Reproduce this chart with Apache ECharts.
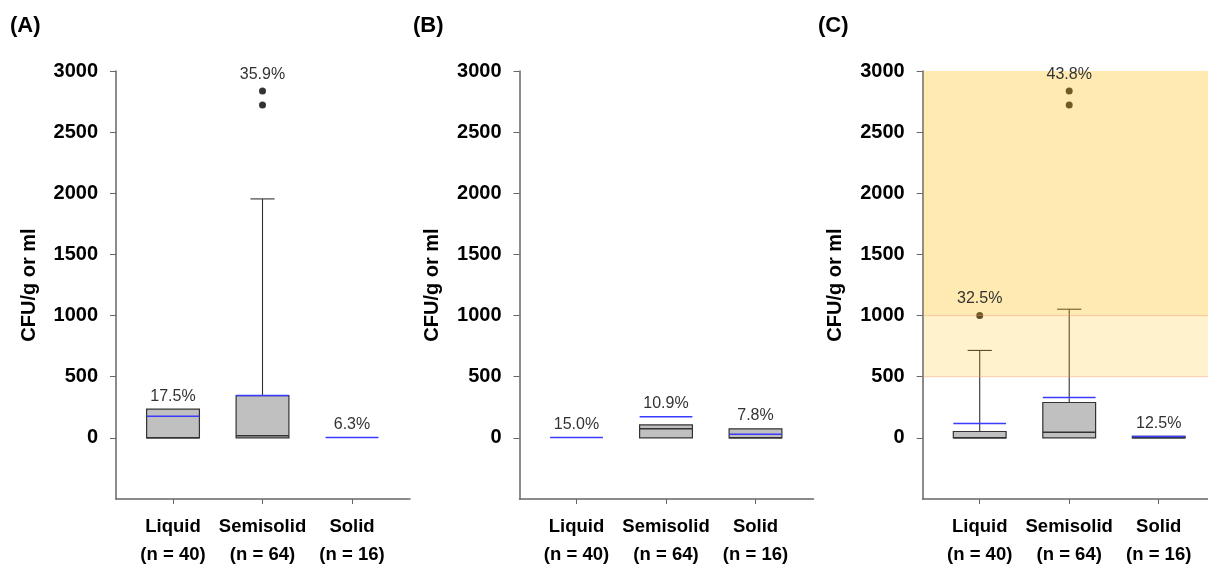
<!DOCTYPE html>
<html>
<head>
<meta charset="utf-8">
<script src="https://cdn.jsdelivr.net/npm/echarts@6/dist/echarts.min.js"></script>
<style>
  html, body { margin: 0; padding: 0; background: #fff; }
  #chart { width: 1208px; height: 564px; }
</style>
</head>
<body>
<div id="chart"></div>
<script>
// Sample categories and counts
const categories = ['Liquid', 'Semisolid', 'Solid'];
const sampleCounts = [40, 64, 16];
const yTicks = [0, 500, 1000, 1500, 2000, 2500, 3000];
const panelTitles = ['(A)', '(B)', '(C)'];

// Box statistics per category: [q1, median, q3, upper whisker]
const statsA = [[0, 0, 235, 235], [0, 17, 346, 1954], [0, 0, 0, 0]];
const meansA = [177, 346, 3];
const outliersA = [[], [2722, 2837], []];
const positiveA = ['17.5%', '35.9%', '6.3%'];

const statsB = [[0, 0, 0, 0], [0, 74, 106, 106], [0, 0, 74, 74]];
const meansB = [2, 172, 30];
const outliersB = [[], [], []];
const positiveB = ['15.0%', '10.9%', '7.8%'];

const statsC = [[0, 0, 52, 715], [0, 45, 289, 1052], [0, 0, 12, 12]];
const meansC = [117, 330, 12];
const outliersC = [[1000], [2722, 2837], []];
const positiveC = ['32.5%', '43.8%', '12.5%'];

// Limit bands shown in panel C: [lower, upper]
const limitBandsC = [[500, 1000], [1000, 3000]];

const FONT = "'Liberation Sans', Arial, sans-serif";
const AXIS_COLOR = '#666';
const BOX_WIDTH = 0.59;   // in x-axis units (category spacing = 1)
const CAP_WIDTH = 0.27;
const DOT_SIZE = 7;

const gridLefts = [116, 519.5, 922.7];
const GRID_TOP = 71, GRID_W = 294, GRID_H = 428;

const panels = [
  { stats: statsA, means: meansA, outliers: outliersA, positive: positiveA, bands: [] },
  { stats: statsB, means: meansB, outliers: outliersB, positive: positiveB, bands: [] },
  { stats: statsC, means: meansC, outliers: outliersC, positive: positiveC, bands: limitBandsC }
];

const grids = [], xAxes = [], yAxes = [], series = [], titles = [];

panels.forEach((p, k) => {
  grids.push({ left: gridLefts[k], top: GRID_TOP, width: GRID_W, height: GRID_H, outerBoundsMode: 'none', containLabel: false });
  titles.push({
    text: panelTitles[k], left: [10, 413, 818][k], top: 15, padding: 0,
    textStyle: { fontFamily: FONT, fontSize: 22, fontWeight: 'bold', color: '#000' }
  });
  xAxes.push({
    type: 'value', gridIndex: k, min: 0.363, max: 3.648,
    axisLine: { show: true, onZero: false, lineStyle: { color: AXIS_COLOR, width: 1.5 } },
    axisTick: { show: true, length: 5, customValues: [1, 2, 3], lineStyle: { color: AXIS_COLOR, width: 1 } },
    axisLabel: {
      customValues: [1, 2, 3], margin: 14,
      formatter: v => { const i = Math.round(v) - 1; return categories[i] + '\n(n = ' + sampleCounts[i] + ')'; },
      fontFamily: FONT, fontSize: 18.5, fontWeight: 'bold', color: '#000', lineHeight: 28
    },
    splitLine: { show: false }
  });
  yAxes.push({
    type: 'value', gridIndex: k, min: -500, max: 3000, interval: 500,
    name: 'CFU/g or ml', nameLocation: 'middle', nameGap: 77, nameRotate: 90,
    nameTextStyle: { fontFamily: FONT, fontSize: 20, fontWeight: 'bold', color: '#000' },
    axisLine: { show: true, onZero: false, lineStyle: { color: AXIS_COLOR, width: 1.5 } },
    axisTick: { show: true, length: 6, customValues: yTicks, lineStyle: { color: AXIS_COLOR, width: 1 } },
    axisLabel: {
      customValues: yTicks, margin: 18, formatter: v => String(v),
      fontFamily: FONT, fontSize: 20, fontWeight: 'bold', color: '#000'
    },
    splitLine: { show: false }
  });

  // Box, median, whisker and mean lines
  const boxData = p.stats.map((s, i) => [i + 1, s[0], s[1], s[2], s[3], p.means[i]]);
  series.push({
    type: 'custom', xAxisIndex: k, yAxisIndex: k, z: 2, clip: false,
    data: boxData,
    renderItem: (params, api) => {
      const x = api.value(0);
      const q1 = api.value(1), med = api.value(2), q3 = api.value(3), whi = api.value(4), mean = api.value(5);
      const cx = api.coord([x, 0])[0];
      const hw = api.size([BOX_WIDTH, 0])[0] / 2;
      const cw = api.size([CAP_WIDTH, 0])[0] / 2;
      const y = v => api.coord([x, v])[1];
      const children = [];
      if (whi > q3) {
        children.push({ type: 'line', shape: { x1: cx, y1: y(q3), x2: cx, y2: y(whi) }, style: { stroke: '#333', lineWidth: 1.1 } });
        children.push({ type: 'line', shape: { x1: cx - cw, y1: y(whi), x2: cx + cw, y2: y(whi) }, style: { stroke: '#333', lineWidth: 1.1 } });
      }
      if (q3 > q1) {
        children.push({ type: 'rect', shape: { x: cx - hw, y: y(q3), width: 2 * hw, height: y(q1) - y(q3) },
          style: { fill: '#c0c0c0', stroke: '#333', lineWidth: 1.2 } });
        children.push({ type: 'line', shape: { x1: cx - hw, y1: y(med), x2: cx + hw, y2: y(med) }, style: { stroke: '#333', lineWidth: 1.5 } });
      }
      children.push({ type: 'line', shape: { x1: cx - hw, y1: y(mean), x2: cx + hw, y2: y(mean) }, style: { stroke: '#3b3bff', lineWidth: 1.5 } });
      return { type: 'group', children };
    }
  });

  // Outlying samples
  const dots = [];
  p.outliers.forEach((list, i) => list.forEach(v => dots.push([i + 1, v])));
  series.push({
    type: 'scatter', xAxisIndex: k, yAxisIndex: k, z: 3, data: dots,
    symbol: 'circle', symbolSize: DOT_SIZE, itemStyle: { color: '#000' }, silent: true
  });

  // Translucent limit bands
  if (p.bands.length) {
    series.push({
      type: 'custom', xAxisIndex: k, yAxisIndex: k, z: 4, clip: false, silent: true,
      data: p.bands,
      renderItem: (params, api) => {
        const lo = api.value(0), hi = api.value(1);
        const cs = params.coordSys;
        const yLo = api.coord([1, lo])[1], yHi = api.coord([1, hi])[1];
        const alpha = params.dataIndex === 0 ? 0.2 : 0.3;
        return { type: 'group', children: [
          { type: 'rect', shape: { x: cs.x + 1, y: yHi, width: cs.width, height: yLo - yHi },
            style: { fill: 'rgba(255,190,0,' + alpha + ')' } },
          { type: 'line', shape: { x1: cs.x + 1, y1: yLo, x2: cs.x + cs.width, y2: yLo },
            style: { stroke: 'rgba(245,150,110,0.45)', lineWidth: 1 } }
        ] };
      }
    });
  }

  // Share of positive samples, written above each group
  const labelData = p.stats.map((s, i) => {
    const top = Math.max(s[2], s[3], p.means[i], ...p.outliers[i]);
    const hasDot = p.outliers[i].length > 0 ? 1 : 0;
    return [i + 1, top, hasDot];
  });
  series.push({
    type: 'custom', xAxisIndex: k, yAxisIndex: k, z: 6, clip: false, silent: true,
    data: labelData,
    renderItem: (params, api) => {
      const pt = api.coord([api.value(0), api.value(1)]);
      const yTop = pt[1] - (api.value(2) ? DOT_SIZE / 2 : 0);
      return { type: 'text', style: {
        text: p.positive[params.dataIndex], x: pt[0], y: yTop - 13,
        align: 'center', verticalAlign: 'middle',
        fontFamily: FONT, fontSize: 16, fill: '#333'
      } };
    }
  });
});

const chart = echarts.init(document.getElementById('chart'), null, { renderer: 'canvas' });
chart.setOption({
  animation: false,
  backgroundColor: '#fff',
  title: titles,
  grid: grids,
  xAxis: xAxes,
  yAxis: yAxes,
  series: series
});
</script>
</body>
</html>
